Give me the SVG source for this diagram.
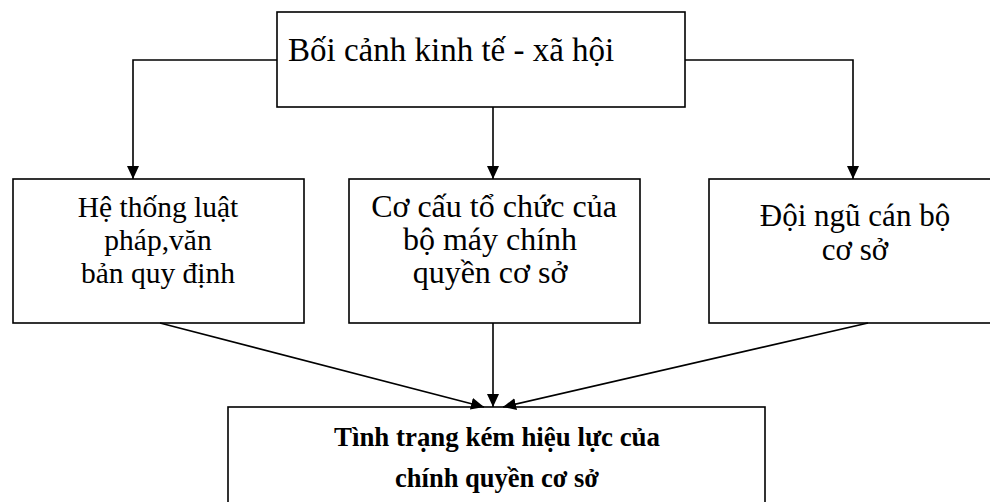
<svg xmlns="http://www.w3.org/2000/svg" width="990" height="502" viewBox="0 0 990 502">
  <style>
    .box { fill: #fff; stroke: #000; stroke-width: 1.6; }
    .wire { fill: none; stroke: #000; stroke-width: 1.6; }
    .t { font-family: "Liberation Serif", "Times New Roman", serif; font-size: 29.5px; fill: #000; }
    .c { text-anchor: middle; }
    .lg { font-size: 32px; }
    .md { font-size: 31px; }
    .b { font-weight: bold; font-size: 28px; }
  </style>
  <defs>
    <marker id="arrow" viewBox="0 0 13 12" refX="13" refY="6" markerWidth="13" markerHeight="12" markerUnits="userSpaceOnUse" orient="auto">
      <path d="M0,0 L13,6 L0,12 Z" fill="#000"/>
    </marker>
  </defs>

  <g id="node-context">
    <rect class="box" x="277" y="12" width="408" height="95"/>
    <text class="t" x="288" y="61" style="font-size:33px">Bối cảnh kinh tế - xã hội</text>
  </g>

  <g id="node-law">
    <rect class="box" x="13" y="179" width="291" height="144"/>
    <text class="t c" x="158" y="217">Hệ thống luật</text>
    <text class="t c" x="158" y="250">pháp,văn</text>
    <text class="t c" x="158" y="283">bản quy định</text>
  </g>

  <g id="node-structure">
    <rect class="box" x="349" y="179" width="291" height="144"/>
    <text class="t c lg" x="494" y="217">Cơ cấu tổ chức của</text>
    <text class="t c lg" x="490" y="250">bộ máy chính</text>
    <text class="t c lg" x="490" y="283">quyền cơ sở</text>
  </g>

  <g id="node-staff">
    <rect class="box" x="709" y="179" width="292" height="144"/>
    <text class="t c md" x="855" y="226">Đội ngũ cán bộ</text>
    <text class="t c md" x="855" y="260">cơ sở</text>
  </g>

  <g id="node-result">
    <rect class="box" x="228" y="407" width="537" height="110"/>
    <text class="t c b" x="497" y="446" textLength="326" lengthAdjust="spacingAndGlyphs">Tình trạng kém hiệu lực của</text>
    <text class="t c b" x="497" y="487" textLength="204" lengthAdjust="spacingAndGlyphs">chính quyền cơ sở</text>
  </g>

  <g id="connectors">
    <polyline class="wire" points="277,60 133,60 133,179" marker-end="url(#arrow)"/>
    <line class="wire" x1="493" y1="107" x2="493" y2="179" marker-end="url(#arrow)"/>
    <polyline class="wire" points="685,60 853,60 853,179" marker-end="url(#arrow)"/>
    <line class="wire" x1="160" y1="323" x2="484" y2="407" marker-end="url(#arrow)"/>
    <line class="wire" x1="493" y1="323" x2="493" y2="407" marker-end="url(#arrow)"/>
    <line class="wire" x1="868" y1="323" x2="503" y2="407" marker-end="url(#arrow)"/>
  </g>
</svg>
